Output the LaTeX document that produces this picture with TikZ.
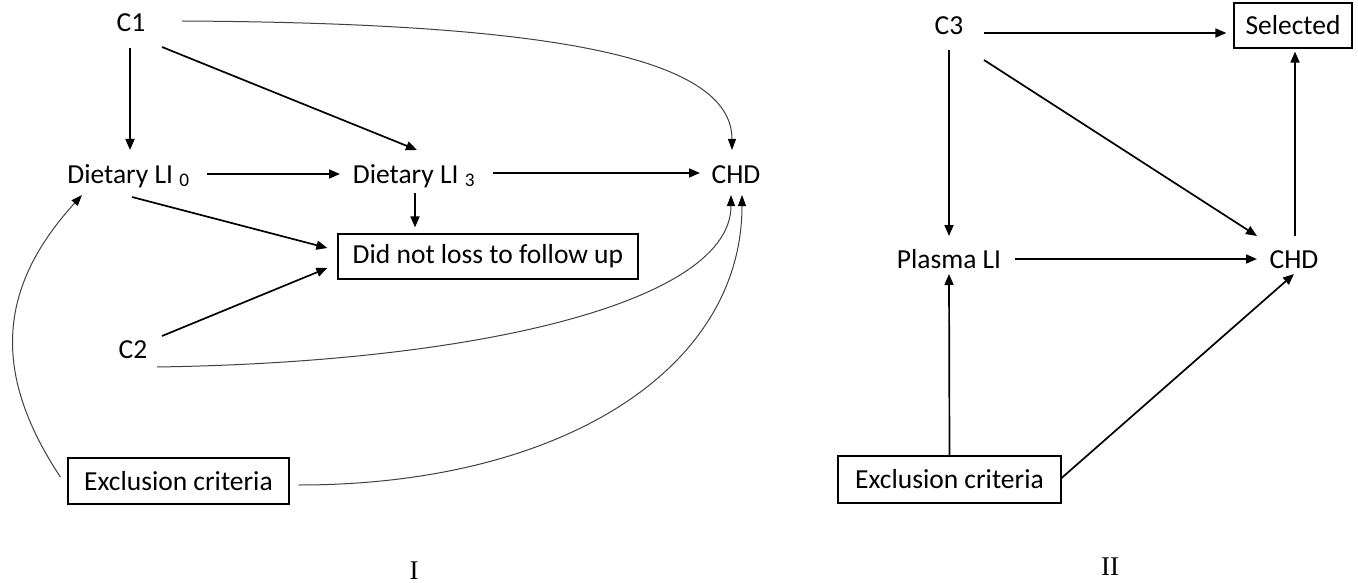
\documentclass[tikz,border=0pt]{standalone}
\usepackage{fontspec}
\setmainfont{Carlito}
\newfontfamily\romfont{Liberation Serif}
\usetikzlibrary{arrows.meta,calc}

\tikzset{
  arr/.style={line width=1.7pt,-{Triangle[length=11pt,width=9pt]}},
  curv/.style={line width=1pt,color=black!75,-{Triangle[length=11pt,width=8pt,color=black]}},
  txt/.style={inner sep=0pt,anchor=base,font=\fontsize{27.5}{32}\selectfont},
  boxed/.style={draw,line width=1.2pt,inner sep=0pt,font=\fontsize{27.5}{32}\selectfont},
  roman/.style={font=\romfont\fontsize{27}{32}\selectfont}
}

\begin{document}
\begin{tikzpicture}[x=1pt,y=-1pt]
\useasboundingbox (0,0) rectangle (1358,583);
% diagram I
\node[txt] (c1) at (131,32) {C1};
\node[txt] (lio) at (128.5,183) {Dietary LI \textsubscript{0}};
\node[txt] (li3) at (414,183) {Dietary LI \textsubscript{3}};
\node[txt] (chd) at (736,183) {CHD};
\node[boxed,minimum width=300pt,minimum height=45pt] (lost) at (488,256.5) {Did not loss to follow up};
\node[txt] (c2) at (133,358) {C2};
\node[boxed,minimum width=221pt,minimum height=46pt] (excl) at (178.5,481) {Exclusion criteria};
\node[roman] (labI) at (414,571) {I};

\draw[arr] ($(c1.base)+(-1,16)$) -- ($(lio.base)+(1.5,-33)$);
\draw[arr] ($(c1.base)+(31,15)$) -- ($(li3.base)+(3,-33)$);
\draw[curv] ($(c1.base)+(51,-11)$) .. controls +(360,2) and +(0,-95) .. ($(chd.base)+(-4,-33)$);
\draw[arr] ($(lio.base)+(78.5,-9)$) -- ($(li3.base)+(-74,-9)$);
\draw[arr] ($(li3.base)+(79,-10)$) -- ($(chd.base)+(-36,-10)$);
\draw[arr] ($(li3.base)+(1,10)$) -- ($(lost.north)+(-73,-6)$);
\draw[arr] ($(lio.base)+(3.5,14)$) -- ($(lost.west)+(-10,-8.5)$);
\draw[arr] ($(c2.base)+(29,-22)$) -- ($(lost.west)+(-10,11.5)$);
\draw[curv] ($(c2.base)+(24,9)$) .. controls +(330,-5) and +(0,105) .. ($(chd.base)+(-5,12)$);
\draw[curv] ($(excl.east)+(9,4)$) .. controls +(262,0) and +(0,175) .. ($(chd.base)+(6,12)$);
\draw[curv] ($(excl.west)+(-7,-4)$) .. controls +(-71,-107) and +(-82,90) .. ($(lio.base)+(-46.5,12)$);

% diagram II
\node[txt] (c3) at (949,35) {C3};
\node[boxed,minimum width=118pt,minimum height=45pt] (sel) at (1293,25.5) {Selected};
\node[txt] (plasma) at (949,268) {Plasma LI};
\node[txt] (chd2) at (1294,268) {CHD};
\node[boxed,minimum width=223pt,minimum height=47pt] (excl2) at (949.5,479.5) {Exclusion criteria};
\node[roman] (labII) at (1110,567) {II};

\draw[arr] ($(c3.base)+(35,-2)$) -- ($(sel.west)+(-7,7.5)$);
\draw[arr] ($(c3.base)+(0,15)$) -- ($(plasma.base)+(0,-32)$);
\draw[arr] ($(c3.base)+(35,25)$) -- ($(chd2.base)+(-37,-32)$);
\draw[arr] ($(plasma.base)+(66,-9)$) -- ($(chd2.base)+(-37,-9)$);
\draw[arr] ($(chd2.base)+(1,-32)$) -- ($(sel.south)+(2,3)$);
\draw[arr] (excl2.north) -- ($(plasma.base)+(0,6)$);
\draw[arr] ($(excl2.east)+(0,-1.5)$) -- ($(chd2.base)+(0,6)$);
\end{tikzpicture}
\end{document}
